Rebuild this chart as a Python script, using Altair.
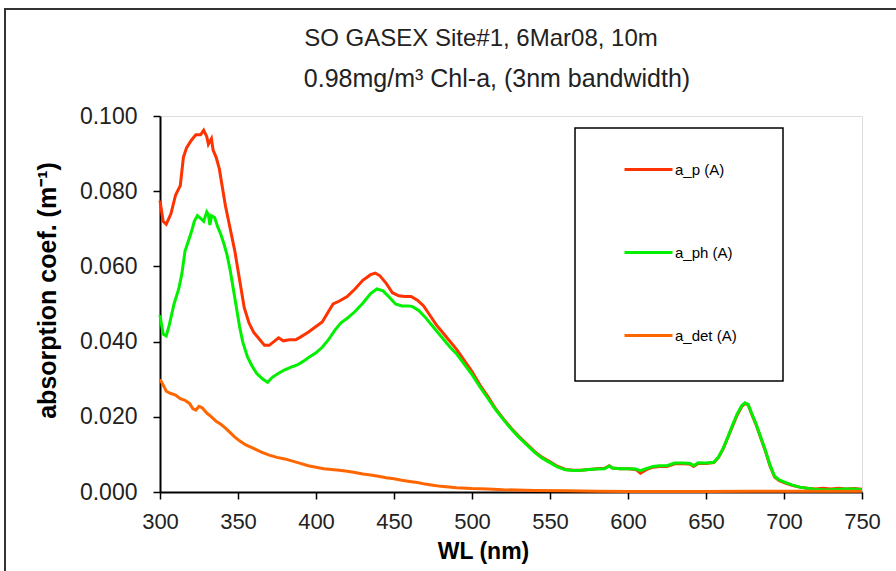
import altair as alt
import pandas as pd

# ---------------- data ----------------
wl_ap = [300, 302, 304, 307, 310, 313, 315, 317, 320, 323, 326, 328, 330, 331, 333, 334, 336, 338, 340, 342,
         345, 348, 350, 352, 354, 357, 360, 364, 367, 370, 373, 376, 379, 383, 387, 390, 395, 400, 404, 408,
         411, 415, 420, 425, 430, 435, 438, 441, 445, 449, 453, 457, 461, 465, 469, 473, 477, 480, 485, 490,
         495, 500, 505, 510, 515, 520, 525, 530, 535, 540, 545, 550, 555, 560, 565, 570, 575, 580, 585, 588,
         590, 595, 600, 605, 608, 612, 616, 620, 625, 630, 635, 640, 642, 645, 650, 655, 658, 661, 664, 667,
         670, 673, 675, 677, 679, 682, 685, 688, 691, 694, 697, 700, 705, 710, 715, 720, 725, 730, 735, 740,
         745, 750]
ap = [0.0775, 0.0720, 0.0712, 0.0740, 0.0790, 0.0815, 0.0890, 0.0915, 0.0935, 0.0950, 0.0950, 0.0962, 0.0945,
      0.0925, 0.0940, 0.0910, 0.0890, 0.0860, 0.0810, 0.0760, 0.0700, 0.0640, 0.0590, 0.0540, 0.0490, 0.0450,
      0.0425, 0.0405, 0.0390, 0.0390, 0.0400, 0.0410, 0.0402, 0.0405, 0.0405, 0.0412, 0.0425, 0.0440, 0.0452,
      0.0480, 0.0500, 0.0508, 0.0520, 0.0540, 0.0563, 0.0578, 0.0582, 0.0575, 0.0555, 0.0530, 0.0522, 0.0520,
      0.0520, 0.0510, 0.0495, 0.0470, 0.0445, 0.0430, 0.0405, 0.0380, 0.0350, 0.0320, 0.0285, 0.0255, 0.0222,
      0.0195, 0.0170, 0.0148, 0.0128, 0.0108, 0.0092, 0.0080, 0.0068, 0.0060, 0.0058, 0.0058, 0.0060, 0.0062,
      0.0063, 0.0070, 0.0064, 0.0062, 0.0062, 0.0060, 0.0050, 0.0060, 0.0066, 0.0068, 0.0068, 0.0075, 0.0076,
      0.0074, 0.0068, 0.0076, 0.0076, 0.0078, 0.0092, 0.0115, 0.0145, 0.0175, 0.0205, 0.0228, 0.0235, 0.0232,
      0.0210, 0.0180, 0.0145, 0.0110, 0.0070, 0.0040, 0.0030, 0.0025, 0.0018, 0.0013, 0.0010, 0.0008, 0.0010,
      0.0008, 0.0010, 0.0008, 0.0009, 0.0007]

wl_aph = [300, 302, 304, 306, 309, 312, 314, 316, 318, 320, 322, 324, 326, 328, 330, 331, 332, 333, 335, 337,
          339, 341, 343, 345, 347, 349, 351, 353, 356, 359, 362, 366, 369, 372, 376, 380, 384, 388, 392, 396,
          400, 404, 408, 412, 416, 420, 425, 430, 435, 439, 443, 447, 451, 455, 459, 462, 466, 470, 474, 478,
          482, 486, 490, 495, 500, 505, 510, 515, 520, 525, 530, 535, 540, 545, 550, 555, 560, 565, 570, 575,
          580, 585, 588, 590, 595, 600, 605, 608, 612, 616, 620, 625, 630, 635, 640, 642, 645, 650, 655, 658,
          661, 664, 667, 670, 673, 675, 677, 679, 682, 685, 688, 691, 694, 697, 700, 705, 710, 715, 720, 725,
          730, 735, 740, 745, 750]
aph = [0.0470, 0.0420, 0.0415, 0.0445, 0.0500, 0.0540, 0.0580, 0.0640, 0.0665, 0.0690, 0.0720, 0.0735, 0.0728,
       0.0720, 0.0745, 0.0738, 0.0710, 0.0735, 0.0730, 0.0705, 0.0685, 0.0660, 0.0630, 0.0590, 0.0540, 0.0490,
       0.0440, 0.0400, 0.0360, 0.0335, 0.0315, 0.0300, 0.0292, 0.0305, 0.0316, 0.0325, 0.0332, 0.0338, 0.0348,
       0.0360, 0.0370, 0.0385, 0.0405, 0.0430, 0.0450, 0.0462, 0.0480, 0.0502, 0.0528, 0.0540, 0.0535, 0.0518,
       0.0500, 0.0495, 0.0495, 0.0493, 0.0482, 0.0465, 0.0445, 0.0425, 0.0405, 0.0385, 0.0368, 0.0340, 0.0312,
       0.0280, 0.0250, 0.0220, 0.0193, 0.0168, 0.0146, 0.0126, 0.0106, 0.0090, 0.0078, 0.0066, 0.0059, 0.0057,
       0.0058, 0.0060, 0.0061, 0.0062, 0.0069, 0.0064, 0.0062, 0.0062, 0.0061, 0.0057, 0.0063, 0.0068, 0.0070,
       0.0070, 0.0077, 0.0077, 0.0076, 0.0070, 0.0078, 0.0077, 0.0079, 0.0093, 0.0116, 0.0146, 0.0178, 0.0208,
       0.0230, 0.0237, 0.0233, 0.0212, 0.0182, 0.0147, 0.0112, 0.0072, 0.0042, 0.0032, 0.0027, 0.0019, 0.0013,
       0.0010, 0.0007, 0.0006, 0.0006, 0.0007, 0.0008, 0.0008, 0.0006]

wl_adet = [300, 302, 304, 307, 310, 313, 316, 319, 321, 323, 325, 327, 330, 333, 336, 339, 342, 345, 348, 351,
           355, 360, 365, 370, 375, 380, 385, 390, 395, 400, 405, 410, 415, 420, 425, 430, 435, 440, 445, 450,
           455, 460, 465, 470, 475, 480, 485, 490, 500, 510, 520, 540, 560, 580, 600, 620, 650, 680, 700, 720,
           750]
adet = [0.0300, 0.0285, 0.0268, 0.0262, 0.0258, 0.0248, 0.0244, 0.0235, 0.0222, 0.0218, 0.0228, 0.0224, 0.0210,
        0.0200, 0.0188, 0.0180, 0.0170, 0.0158, 0.0146, 0.0136, 0.0125, 0.0116, 0.0106, 0.0098, 0.0092, 0.0088,
        0.0082, 0.0076, 0.0070, 0.0066, 0.0062, 0.0060, 0.0058, 0.0055, 0.0052, 0.0048, 0.0045, 0.0042, 0.0038,
        0.0035, 0.0031, 0.0028, 0.0025, 0.0021, 0.0018, 0.0015, 0.0013, 0.0011, 0.0009, 0.0008, 0.0006, 0.0004,
        0.0003, 0.0002, 0.0001, 0.0001, 0.0001, 0.0002, 0.0002, 0.0002, 0.0002]

series_names = ["a_p (A)", "a_ph (A)", "a_det (A)"]
series_colors = ["#ff3300", "#00f000", "#ff6600"]
x_ticks = [300, 350, 400, 450, 500, 550, 600, 650, 700, 750]
y_ticks = [0.0, 0.02, 0.04, 0.06, 0.08, 0.10]
title_lines = ["SO GASEX Site#1, 6Mar08, 10m", "0.98mg/m\u00b3 Chl-a, (3nm bandwidth)"]

df = pd.concat([
    pd.DataFrame({"wl": wl_ap, "value": ap, "series": series_names[0]}),
    pd.DataFrame({"wl": wl_aph, "value": aph, "series": series_names[1]}),
    pd.DataFrame({"wl": wl_adet, "value": adet, "series": series_names[2]}),
], ignore_index=True)

FONT = "Liberation Sans"

x_enc = alt.X("wl:Q", scale=alt.Scale(domain=[300, 750], nice=False, zero=False),
              axis=alt.Axis(values=x_ticks, format="d", title="WL (nm)", grid=False,
                            labelFont=FONT, labelFontSize=22, labelColor="#222", labelFlush=False,
                            labelPadding=12, tickSize=7, tickColor="black", tickWidth=1.5,
                            domainColor="black", domainWidth=2,
                            titleFont=FONT, titleFontSize=23, titleFontWeight="bold",
                            titleColor="black", titleX=323, titlePadding=8))
y_enc = alt.Y("value:Q", scale=alt.Scale(domain=[0, 0.1], nice=False),
              axis=alt.Axis(values=y_ticks, format=".3f", title="absorption coef. (m\u207b\u00b9)",
                            grid=False, labelFont=FONT, labelFontSize=23, labelColor="#222",
                            labelPadding=16, tickSize=7, tickColor="black", tickWidth=1.5,
                            domainColor="black", domainWidth=2,
                            titleFont=FONT, titleFontSize=25, titleFontWeight="bold",
                            titleColor="black", titlePadding=19, titleY=174))
color_enc = alt.Color("series:N",
                      scale=alt.Scale(domain=series_names, range=series_colors),
                      legend=alt.Legend(title=None, orient="none", legendX=463, legendY=28,
                                        symbolType="stroke", symbolSize=2304, symbolStrokeWidth=3,
                                        labelFont=FONT, labelFontSize=15, labelColor="black",
                                        labelOffset=1, rowPadding=49, padding=0))

lines = [
    alt.Chart(df).transform_filter(alt.datum.series == name)
    .mark_line(strokeWidth=3)
    .encode(x=x_enc, y=y_enc, color=color_enc)
    for name in series_names
]

one = pd.DataFrame({"k": [0]})
frame = alt.Chart(one).mark_rect(fill=None, stroke="#333", strokeWidth=2).encode(
    x=alt.value(-155), x2=alt.value(750), y=alt.value(-107), y2=alt.value(470))
legend_box = alt.Chart(one).mark_rect(fill="white", stroke="black", strokeWidth=1.5).encode(
    x=alt.value(415), x2=alt.value(623), y=alt.value(12), y2=alt.value(265))
title1 = alt.Chart(one).mark_text(font=FONT, fontSize=24, color="#222", align="center",
                                  baseline="middle").encode(
    x=alt.value(321), y=alt.value(-77), text=alt.value(title_lines[0]))
title2 = alt.Chart(one).mark_text(font=FONT, fontSize=25, color="#222", align="center",
                                  baseline="middle").encode(
    x=alt.value(337), y=alt.value(-37), text=alt.value(title_lines[1]))

chart = alt.layer(frame, *lines, legend_box, title1, title2).properties(
    width=702, height=376,
    autosize=alt.AutoSizeParams(type="none"),
    padding={"left": 160, "top": 116, "right": 34, "bottom": 79},
).configure_view(stroke="#a0a0a0", strokeWidth=1.5).configure(background="white")

chart.save("out.html", embed_options={"renderer": "svg", "actions": False})
